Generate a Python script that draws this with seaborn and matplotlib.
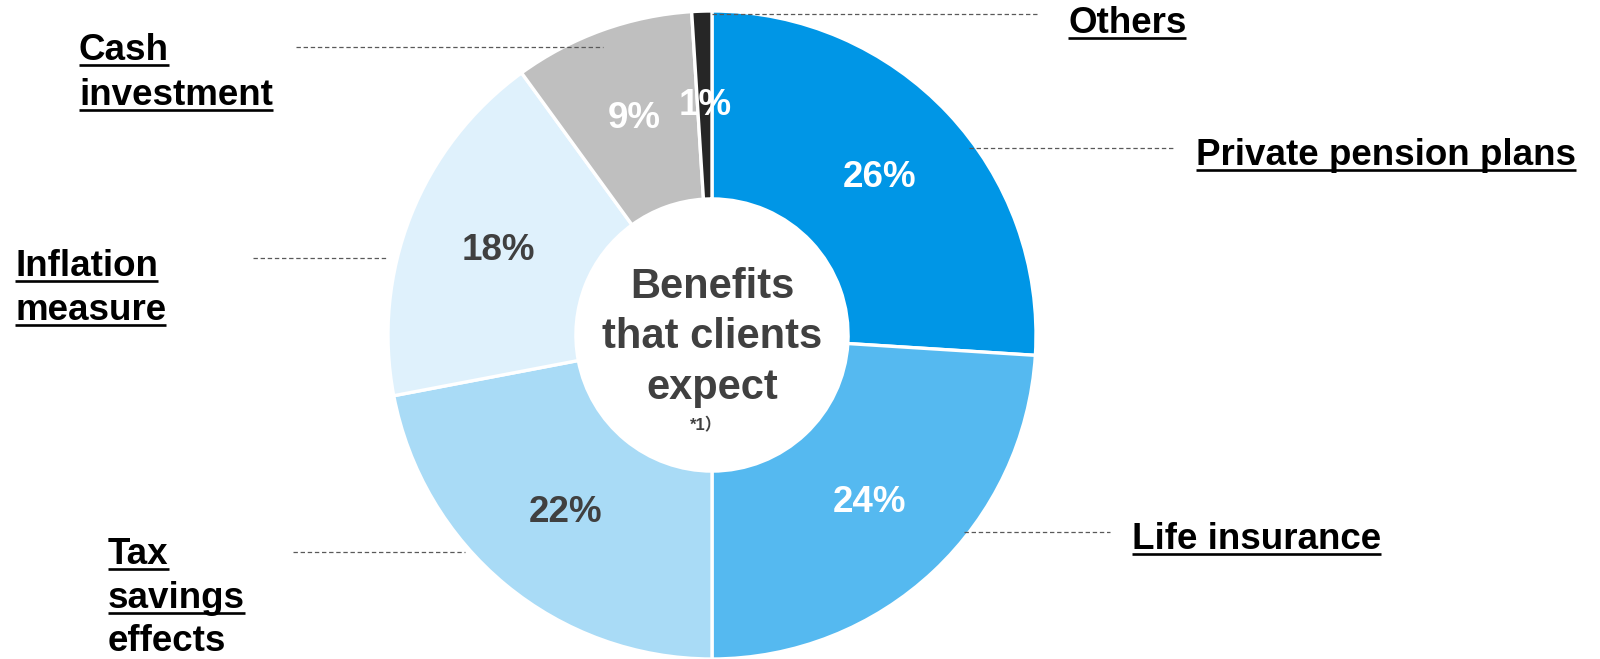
import matplotlib
matplotlib.use("Agg")
import matplotlib.pyplot as plt
import seaborn as sns

# ---- data -------------------------------------------------------------
categories = ["Private pension plans", "Life insurance", "Tax savings effects",
              "Inflation measure", "Cash investment", "Others"]
shares = [26, 24, 22, 18, 9, 1]
slice_colors = ["#0096E6", "#55B9F0", "#A9DBF6", "#DFF1FC", "#BFBFBF", "#262626"]
pct_colors = ["white", "white", "#404040", "#404040", "white", "white"]
center_title = ["Benefits", "that clients", "expect"]
center_note = "*1）"

# label text lines, left edge, baselines, underline flags and leader line (x0, x1, y), in pixels
label_layout = {
    "Private pension plans": dict(lines=["Private pension plans"], x=1196, base=[165],
                                  ul=[True], lead=(969, 1173, 148)),
    "Life insurance": dict(lines=["Life insurance"], x=1132, base=[549],
                           ul=[True], lead=(964, 1110, 532)),
    "Tax savings effects": dict(lines=["Tax", "savings", "effects"], x=108, base=[564, 608, 651],
                                ul=[True, True, False], lead=(293, 465, 552)),
    "Inflation measure": dict(lines=["Inflation", "measure"], x=15, base=[276, 320],
                              ul=[True, True], lead=(253, 386, 258)),
    "Cash investment": dict(lines=["Cash", "investment"], x=79, base=[60, 105],
                            ul=[True, True], lead=(296, 603, 47)),
    "Others": dict(lines=["Others"], x=1068, base=[33],
                   ul=[True], lead=(712, 1037, 14)),
}

# ---- style ------------------------------------------------------------
sns.set_theme(style="white")
plt.rcParams["font.family"] = ["Liberation Sans", "Noto Sans CJK JP", "DejaVu Sans"]
palette = sns.color_palette(slice_colors)

W, H = 1600, 659
fig = plt.figure(figsize=(W / 100, H / 100), dpi=100)
fig.patch.set_facecolor("white")

# donut: centre (712, 335) px, radius 324 px
cx, cy, R = 712, 335, 324
ax = fig.add_axes([(cx - R) / W, (H - cy - R) / H, 2 * R / W, 2 * R / H])
wedges, _, autotexts = ax.pie(
    shares, colors=palette, startangle=90, counterclock=False, radius=1.0,
    wedgeprops=dict(width=0.58, edgecolor="white", linewidth=2.4),
    autopct="%.0f%%", pctdistance=0.71,
    textprops=dict(fontsize=26.5, fontweight="bold"),
)
for t, c in zip(autotexts, pct_colors):
    t.set_color(c)
ax.set_xlim(-1, 1)
ax.set_ylim(-1, 1)
ax.set_aspect("equal")
ax.axis("off")

# overlay in pixel coordinates for labels, leaders and centre caption
ov = fig.add_axes([0, 0, 1, 1], zorder=5)
ov.set_xlim(0, W)
ov.set_ylim(H, 0)
ov.axis("off")
ov.patch.set_visible(False)

dark = "#404040"
for text, yb in zip(center_title, [298, 348, 399]):
    ov.text(cx, yb, text, ha="center", va="baseline", fontsize=30,
            fontweight="bold", color=dark)
ov.text(cx - 6, 430, center_note, ha="center", va="baseline", fontsize=12,
        fontweight="bold", color=dark)

fig.canvas.draw()
renderer = fig.canvas.get_renderer()
inv = ov.transData.inverted()

for name in categories:
    spec = label_layout[name]
    x0, x1, yl = spec["lead"]
    ov.plot([x0, x1], [yl, yl], color="#595959", lw=0.9,
            linestyle=(0, (3.5, 2.2)), solid_capstyle="butt")
    for line, yb, ul in zip(spec["lines"], spec["base"], spec["ul"]):
        t = ov.text(spec["x"], yb, line, ha="left", va="baseline", fontsize=26.5,
                    fontweight="bold", color="black")
        if ul:
            bb = t.get_window_extent(renderer)
            (xa, _), (xb, _) = inv.transform([(bb.x0, bb.y0), (bb.x1, bb.y0)])
            ov.plot([xa, xb], [yb + 5, yb + 5], color="black", lw=1.9,
                    solid_capstyle="butt")

fig.savefig("out.png", dpi=100, facecolor="white")
